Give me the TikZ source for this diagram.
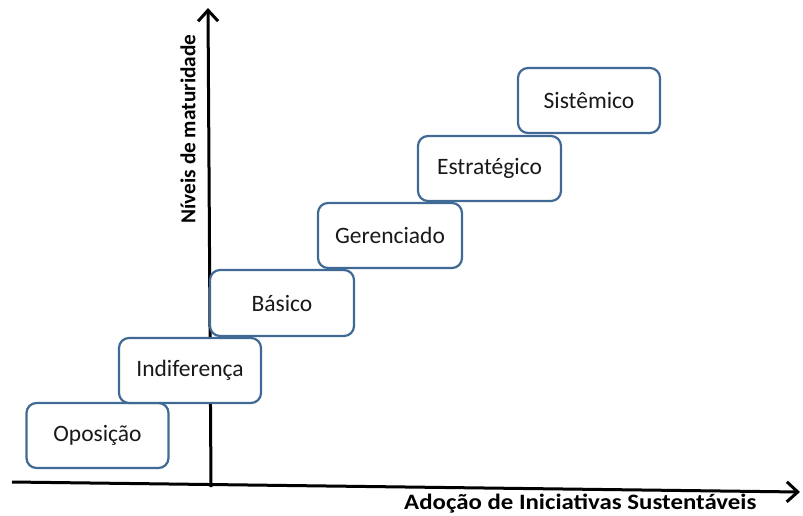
\documentclass[tikz,border=0pt]{standalone}
\usepackage{fontspec}
\setmainfont{Carlito}
\usetikzlibrary{arrows.meta}
\definecolor{boxblue}{RGB}{65,105,150}
\begin{document}
\begin{tikzpicture}[x=1pt,y=-1pt,
  level/.style={draw=boxblue, line width=2.2pt, fill=white, rounded corners=10pt,
    minimum width=142pt, minimum height=65pt, inner sep=0pt,
    font=\fontsize{23.5}{28}\selectfont, text=black!90},
  axis/.style={line width=3pt, -{Straight Barb[length=11pt,width=20pt,line width=3pt]}},
  axlabel/.style={font=\fontsize{22}{26}\selectfont\bfseries, inner sep=0pt}]
\useasboundingbox (0,0) rectangle (803,515);
\coordinate (xs) at (12,482);
\coordinate (xe) at (800,492);
\coordinate (ys) at (211,487);
\coordinate (ye) at (208,8);
\draw[axis] (xs) -- (xe);
\draw[axis] (ys) -- (ye);
\node[axlabel, rotate=90, font=\fontsize{21.3}{26}\selectfont\bfseries] (ylab) at (188,129) {Níveis de maturidade};
\node[axlabel, anchor=base west, xscale=1.13] (xlab) at (404,509) {Adoção de Iniciativas Sustentáveis};
\node[level] (opo) at (97.5,435.5) {Oposição};
\node[level] (ind) at (190,370.5) {Indiferença};
\node[level, minimum width=144pt, minimum height=66pt] (bas) at (282,303) {Básico};
\node[level, minimum width=144pt] (ger) at (390,235.5) {Gerenciado};
\node[level, minimum width=143pt] (est) at (489.5,168.5) {Estratégico};
\node[level] (sis) at (589,100.5) {Sistêmico};
\end{tikzpicture}
\end{document}
